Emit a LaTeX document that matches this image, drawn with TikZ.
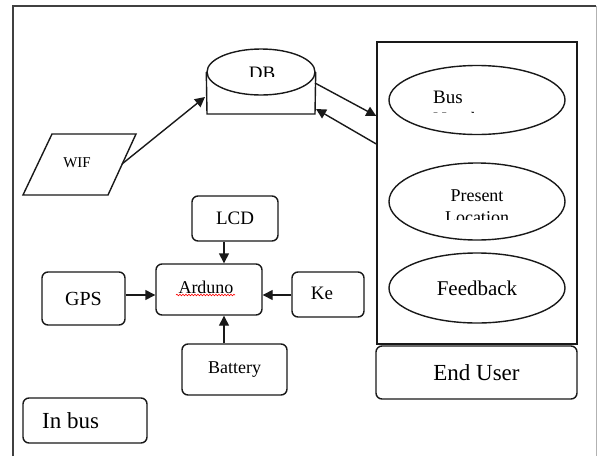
\documentclass[tikz,border=0pt]{standalone}
\usepackage{fontspec}
\setmainfont{Liberation Serif}
\usetikzlibrary{arrows.meta,shapes.geometric,decorations.pathmorphing}
\tikzset{
  ln/.style={line width=1.4pt,draw=black!90},
  rbox/.style={ln,rounded corners=6pt,inner sep=0pt},
  oval/.style={ln,ellipse,inner sep=0pt,minimum width=176pt},
  arr/.style={ln,-{Triangle[length=10pt,width=10pt]}},
  txt/.style={inner sep=0pt,text=black}
}
\newcommand{\fs}[1]{\fontsize{#1}{#1}\selectfont}
\begin{document}
\begin{tikzpicture}[x=1pt,y=-1pt]
    \useasboundingbox (0,0) rectangle (598,456);
    % Frame
    \draw[line width=1.4pt,black!75] (13,456) -- (13,6) -- (596,6);
    \draw[line width=0.8pt,black!30] (596.5,6) -- (596.5,456);
    % DB cylinder
    \node[ln,ellipse,minimum width=108pt,minimum height=46pt] (db) at (261,72) {};
    \draw[ln] (db.west) -- (207,114) -- (315,114) -- (db.east);
    \begin{scope}
      \clip (207,50) rectangle (315,76.5);
      \node[txt,font=\fs{19}] (dbtxt) at (262,73) {DB};
    \end{scope}
    \coordinate (dbout) at (315,83);
    \coordinate (dbin) at (316,109);
    % WIF
    \draw[ln] (52,134) -- (136,134) -- (108,195) -- (23,195) -- cycle;
    \node[txt,font=\fs{15}] (wif) at (77,163) {WIF};
    \coordinate (wifout) at (122,164);
    \coordinate (dbleft) at (205,97);
    \draw[arr] (wifout) -- (dbleft);
    % End user panel
    \node[ln,minimum width=200pt,minimum height=302pt,inner sep=0pt] (pan) at (477,193) {};
    \node[oval,minimum height=69pt] (bus) at (477,100) {};
    \begin{scope}
      \clip (389,60) rectangle (566,112);
      \node[txt,font=\fs{19},align=left,anchor=west] (bustxt) at (433,108) {Bus\\[3pt]Number};
    \end{scope}
    \node[oval,minimum height=77pt] (loc) at (477,201.5) {};
    \begin{scope}
      \clip (389,160) rectangle (566,219);
      \node[txt,font=\fs{18},align=center] (loctxt) at (477,207) {Present\\[4pt]Location};
    \end{scope}
    \node[oval,minimum height=70pt,font=\fs{21}] (fb) at (477,288) {Feedback};
    \node[rbox,minimum width=201pt,minimum height=53pt,font=\fs{23}] (user) at (476.5,372.5) {End User};
    \draw[arr] (dbout) -- (pan.west |- 0,116);
    \draw[arr] (pan.west |- 0,144) -- (dbin);
    % In bus
    \node[rbox,minimum width=106pt,minimum height=51pt] (ard) at (209,289.5) {};
    \node[txt,font=\fs{18}] (ardtxt) at (206,287) {Arduno};
    \draw[red,line width=0.6pt,decorate,decoration={snake,amplitude=0.8pt,segment length=3pt}] (176,295) -- (235,295);
    \node[rbox,minimum width=86pt,minimum height=45pt,font=\fs{19}] (lcd) at (235,218.5) {LCD};
    \node[rbox,minimum width=83pt,minimum height=53pt,font=\fs{20}] (gps) at (83.5,298.5) {GPS};
    \node[rbox,minimum width=72pt,minimum height=45pt] (ke) at (328,294.5) {};
    \node[txt,font=\fs{19}] (ketxt) at (322,293) {Ke};
    \node[rbox,minimum width=105pt,minimum height=51pt,font=\fs{18}] (bat) at (234.5,369.5) {Battery};
    \node[rbox,minimum width=124pt,minimum height=45pt,font=\fs{23}] (inbus) at (85,420.5) {};
    \node[txt,font=\fs{23},anchor=west] (inbustxt) at (42,421) {In bus};
    \coordinate (ax) at (224,0);
    \coordinate (ay) at (0,295);
    \draw[arr] (lcd.south -| ax) -- (ard.north -| ax);
    \draw[arr] (bat.north -| ax) -- (ard.south -| ax);
    \draw[arr] (gps.east |- ay) -- (ard.west |- ay);
    \draw[arr] (ke.west |- ay) -- (ard.east |- ay);
\end{tikzpicture}
\end{document}
